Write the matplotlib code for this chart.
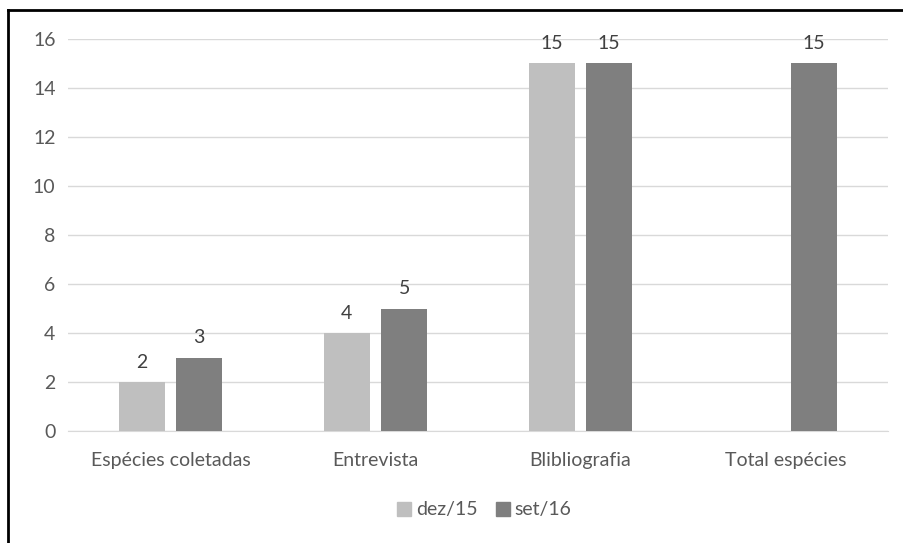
import numpy as np
import matplotlib
matplotlib.use("Agg")
import matplotlib.pyplot as plt
from matplotlib.lines import Line2D

categories = ["Espécies coletadas", "Entrevista", "Blibliografia", "Total espécies"]
dez15 = [2, 4, 15, np.nan]
set16 = [3, 5, 15, 15]
series_names = ["dez/15", "set/16"]
colors = ["#BFBFBF", "#7F7F7F"]
yticks = [0, 2, 4, 6, 8, 10, 12, 14, 16]

plt.rcParams['font.family'] = ['Lato', 'DejaVu Sans']
txt = "#595959"
fs = 14

fig = plt.figure(figsize=(9.04, 5.43), dpi=100)
ax = fig.add_axes([68/904, 1 - 431/543, 820/904, 392/543])

x = np.arange(len(categories))
w = 0.225
off = 0.14
for vals, o, c, name in [(dez15, -off, colors[0], series_names[0]), (set16, off, colors[1], series_names[1])]:
    ax.bar(x + o, vals, width=w, color=c, label=name, zorder=3)
    for xi, v in zip(x + o, vals):
        if not np.isnan(v):
            ax.annotate(f"{int(v)}", (xi, v), xytext=(0, 8), textcoords="offset points",
                        ha="center", va="bottom", fontsize=fs, color="#404040")

ax.set_xlim(-0.5, 3.5)
ax.set_ylim(0, 16)
ax.set_yticks(yticks)
ax.set_xticks(x)
ax.set_xticklabels(categories)
ax.yaxis.grid(True, color="#D9D9D9", linewidth=1, zorder=0)
for s in ["top", "right", "left"]:
    ax.spines[s].set_visible(False)
ax.spines["bottom"].set_color("#D9D9D9")
ax.tick_params(axis="both", length=0, labelsize=fs, colors=txt)
ax.tick_params(axis="y", pad=9)
ax.tick_params(axis="x", pad=15)

handles = [Line2D([], [], marker="s", linestyle="none", markersize=10, color=c) for c in colors]
fig.legend(handles, series_names, loc="center", bbox_to_anchor=(483/904, 1 - 510/543),
           ncol=2, frameon=False, fontsize=fs, labelcolor=txt, handletextpad=0.1,
           columnspacing=0.8, handlelength=1.0)

# outer frame (top and left visible)
fig.add_artist(Line2D([7.5/904, 1], [1 - 10/543, 1 - 10/543], color="black", linewidth=2, transform=fig.transFigure))
fig.add_artist(Line2D([7.5/904, 7.5/904], [0, 1 - 10/543], color="black", linewidth=2, transform=fig.transFigure))

fig.savefig("out.png", dpi=100)
